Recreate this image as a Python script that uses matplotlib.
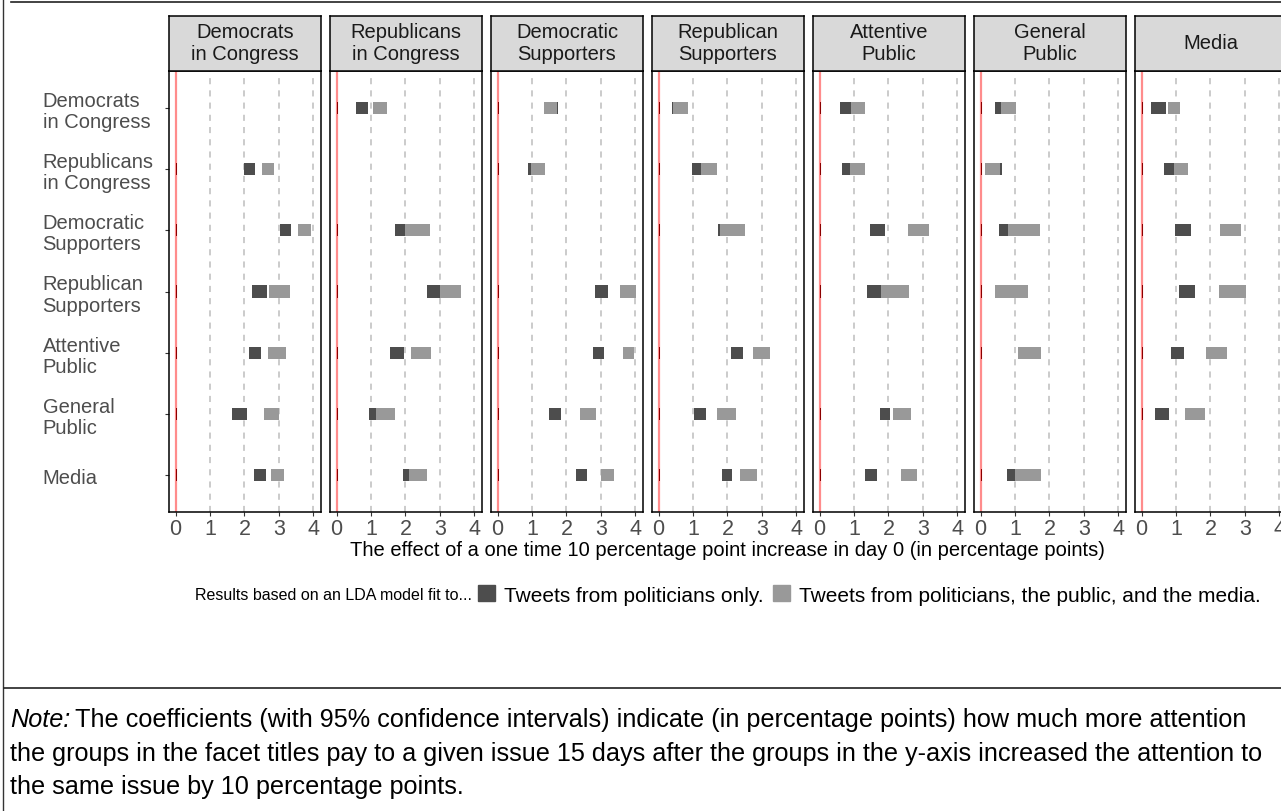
import matplotlib
matplotlib.use("Agg")
import matplotlib.pyplot as plt
import numpy as np
from matplotlib.patches import Patch
from matplotlib.lines import Line2D

plt.rcParams['font.family'] = ['Liberation Sans', 'DejaVu Sans']

groups = ["Democrats\nin Congress", "Republicans\nin Congress", "Democratic\nSupporters",
          "Republican\nSupporters", "Attentive\nPublic", "General\nPublic", "Media"]
facets = groups
nan = np.nan

# intervals (low, high) per facet, rows in the order of `groups`
# model fit to tweets from politicians only
pol_lo = [[nan, 2.00, 3.03, 2.22, 2.14, 1.65, 2.28],
          [0.55, nan, 1.69, 2.62, 1.55, 0.95, 1.92],
          [1.45, 0.89, nan, 2.83, 2.76, 1.49, 2.28],
          [0.40, 0.96, 1.72, nan, 2.11, 1.04, 1.83],
          [0.60, 0.66, 1.47, 1.37, nan, 1.74, 1.31],
          [0.41, 0.30, 0.54, 0.50, 1.10, nan, 0.76],
          [0.28, 0.64, 0.96, 1.10, 0.85, 0.40, nan]]
pol_hi = [[nan, 2.31, 3.36, 2.66, 2.47, 2.06, 2.62],
          [0.92, nan, 2.20, 3.05, 1.95, 1.35, 2.30],
          [1.76, 1.20, nan, 3.20, 3.08, 1.85, 2.60],
          [0.60, 1.40, 2.00, nan, 2.45, 1.38, 2.14],
          [0.90, 0.87, 1.89, 1.79, nan, 2.03, 1.67],
          [0.60, 0.61, 0.81, 0.94, 1.45, nan, 1.01],
          [0.71, 0.94, 1.44, 1.54, 1.23, 0.80, nan]]
# model fit to tweets from politicians, the public and the media
all_lo = [[nan, 2.51, 3.56, 2.70, 2.67, 2.57, 2.76],
          [1.06, nan, 2.00, 3.00, 2.16, 1.14, 2.11],
          [1.35, 0.96, nan, 3.55, 3.63, 2.40, 3.01],
          [0.42, 1.23, 1.77, nan, 2.75, 1.70, 2.36],
          [0.90, 0.87, 2.57, 1.79, nan, 2.14, 2.37],
          [0.60, 0.12, 0.81, 0.41, 1.09, nan, 1.01],
          [0.76, 0.94, 2.29, 2.26, 1.87, 1.27, nan]]
all_hi = [[nan, 2.85, 3.94, 3.33, 3.20, 3.00, 3.15],
          [1.45, nan, 2.71, 3.60, 2.74, 1.70, 2.63],
          [1.72, 1.37, nan, 4.03, 3.96, 2.87, 3.38],
          [0.86, 1.70, 2.51, nan, 3.22, 2.25, 2.86],
          [1.31, 1.31, 3.19, 2.60, nan, 2.65, 2.83],
          [1.03, 0.57, 1.73, 1.38, 1.76, nan, 1.76],
          [1.12, 1.35, 2.88, 3.04, 2.49, 1.83, nan]]
base_hi = 0.04
xticks = [0, 1, 2, 3, 4]

dark = "#4d4d4d"
light = "#999999"

W, H = 1281, 812
fig = plt.figure(figsize=(W / 100, H / 100), dpi=100)


def px_axes(left, top, width, height):
    return fig.add_axes([left / W, 1 - (top + height) / H, width / W, height / H])


y = np.arange(1, len(groups) + 1)
for i, title in enumerate(facets):
    x0 = 169 + 161 * i
    ax = px_axes(x0, 72, 152, 441)
    ax.set_xlim(-0.19, 4.22)
    ax.set_ylim(7.6, 0.4)
    ax.axvline(0, color="red", alpha=0.45, lw=1.6, zorder=1)
    for t in xticks[1:]:
        ax.axvline(t, color="#bdbdbd", lw=1.1, ls=(0, (4, 4)), zorder=1)
    plo, phi = np.array(pol_lo[i]), np.array(pol_hi[i])
    alo, ahi = np.array(all_lo[i]), np.array(all_hi[i])
    ok = ~np.isnan(plo)
    ax.barh(y[ok], base_hi, left=0, height=0.2, color="#8b0000", zorder=2)
    ax.barh(y[ok], phi[ok] - plo[ok], left=plo[ok], height=0.2, color=dark, zorder=3)
    ax.barh(y[ok], ahi[ok] - alo[ok], left=alo[ok], height=0.2, color=light, zorder=4)
    ax.set_xticks(xticks)
    ax.set_xticklabels([str(t) for t in xticks])
    ax.tick_params(axis="x", length=3, width=0.8, color="#333333", labelcolor="#4d4d4d",
                   labelsize=15.5, pad=1.5)
    if i == 0:
        ax.set_yticks(y)
        ax.set_yticklabels(groups, ha="left", linespacing=1.15)
        ax.tick_params(axis="y", length=3, width=0.8, color="#333333", labelcolor="#4d4d4d",
                       labelsize=14.5, pad=88)
    else:
        ax.set_yticks([])
    for s in ax.spines.values():
        s.set_linewidth(1.1)
        s.set_color("black")

    st = px_axes(x0, 17, 152, 55)
    st.set_facecolor("#d9d9d9")
    st.set_xticks([])
    st.set_yticks([])
    for s in st.spines.values():
        s.set_linewidth(1.1)
        s.set_color("black")
    st.text(0.5, 0.52, title, ha="center", va="center", fontsize=14.5, color="#1a1a1a",
            linespacing=1.15, transform=st.transAxes)

fig.text(727 / W, 1 - 550 / H,
         "The effect of a one time 10 percentage point increase in day 0 (in percentage points)",
         ha="center", va="center", fontsize=14.5)

fig.text(472 / W, 1 - 596 / H, "Results based on an LDA model fit to...",
         ha="right", va="center", fontsize=11.5)
handles = [Patch(color=dark, label="Tweets from politicians only."),
           Patch(color=light, label="Tweets from politicians, the public, and the media.")]
fig.legend(handles=handles, loc="center left", bbox_to_anchor=(478 / W, 1 - 596 / H),
           ncol=2, frameon=False, fontsize=15, handlelength=0.8, handleheight=0.8,
           handletextpad=0.45, columnspacing=0.45, borderpad=0, borderaxespad=0)

fig.add_artist(Line2D([3 / W, 3 / W], [0, 1], transform=fig.transFigure, color="#333333", lw=1))
fig.add_artist(Line2D([11 / W, 1], [1 - 3 / H, 1 - 3 / H], transform=fig.transFigure,
                      color="#222222", lw=1.2))
fig.add_artist(Line2D([4 / W, 1], [1 - 689 / H, 1 - 689 / H], transform=fig.transFigure,
                      color="#222222", lw=1.2))

note = ["The coefficients (with 95% confidence intervals) indicate (in percentage points) how much more attention",
        "the groups in the facet titles pay to a given issue 15 days after the groups in the y-axis increased the attention to",
        "the same issue by 10 percentage points."]
note_size = 18.2
lead = fig.text(10 / W, 1 - 720 / H, "Note:", ha="left", va="center", fontsize=note_size,
                style="italic")
fig.canvas.draw()
lead_end = lead.get_window_extent().x1 / W
fig.text(lead_end + 5 / W, 1 - 720 / H, note[0], ha="left", va="center", fontsize=note_size)
fig.text(10 / W, 1 - 754 / H, note[1], ha="left", va="center", fontsize=note_size)
fig.text(10 / W, 1 - 787 / H, note[2], ha="left", va="center", fontsize=note_size)

fig.savefig("out.png", dpi=100)
